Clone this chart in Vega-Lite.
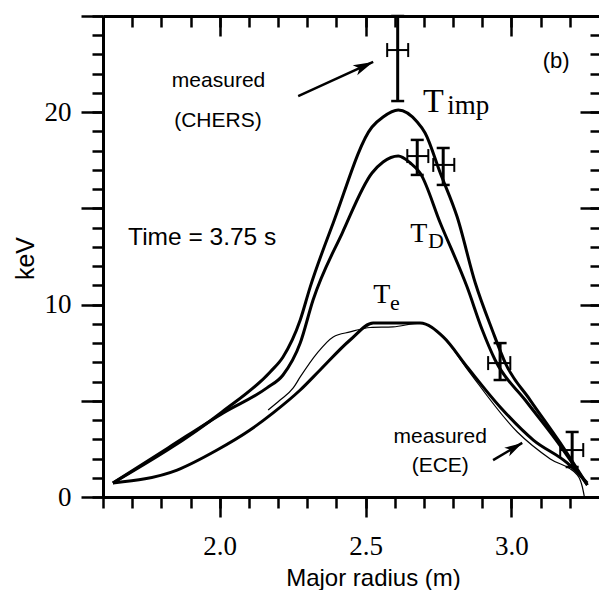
{
  "$schema": "https://vega.github.io/schema/vega-lite/v6.json",
  "width": 496,
  "height": 481,
  "autosize": {"type": "none"},
  "padding": {"left": 103, "top": 16, "right": 0, "bottom": 93},
  "background": "white",
  "config": {
    "view": {"stroke": null},
    "axis": {"grid": false, "domainColor": "black", "tickColor": "black", "labelColor": "black", "titleColor": "black", "domainWidth": 3, "tickWidth": 2.5, "labelFlush": false, "labelOverlap": false}
  },
  "datasets": {
    "timp": [
      {"r": 1.634, "t": 0.73}, {"r": 2.008, "t": 4.42}, {"r": 2.173, "t": 6.5}, {"r": 2.217, "t": 7.28},
      {"r": 2.276, "t": 9.2}, {"r": 2.31, "t": 10.91}, {"r": 2.389, "t": 14.24}, {"r": 2.522, "t": 19.23},
      {"r": 2.56, "t": 19.75}, {"r": 2.612, "t": 20.11}, {"r": 2.677, "t": 19.49}, {"r": 2.704, "t": 18.92},
      {"r": 2.756, "t": 16.84}, {"r": 2.814, "t": 14.55}, {"r": 2.876, "t": 11.12}, {"r": 2.934, "t": 8.68},
      {"r": 2.979, "t": 6.96}, {"r": 3.064, "t": 5.04}, {"r": 3.167, "t": 2.81}, {"r": 3.26, "t": 0.62}
    ],
    "td": [
      {"r": 1.634, "t": 0.73}, {"r": 1.823, "t": 2.55}, {"r": 2.012, "t": 4.37}, {"r": 2.162, "t": 5.67},
      {"r": 2.217, "t": 6.34}, {"r": 2.276, "t": 8.0}, {"r": 2.32, "t": 10.24}, {"r": 2.42, "t": 13.72},
      {"r": 2.522, "t": 16.84}, {"r": 2.56, "t": 17.41}, {"r": 2.612, "t": 17.72}, {"r": 2.653, "t": 17.36},
      {"r": 2.687, "t": 16.84}, {"r": 2.756, "t": 14.24}, {"r": 2.848, "t": 10.91}, {"r": 2.9, "t": 8.68},
      {"r": 2.944, "t": 7.12}, {"r": 3.047, "t": 5.04}, {"r": 3.153, "t": 2.96}, {"r": 3.26, "t": 0.62}
    ],
    "te": [
      {"r": 1.634, "t": 0.73}, {"r": 1.854, "t": 1.4}, {"r": 1.991, "t": 2.44}, {"r": 2.104, "t": 3.48},
      {"r": 2.183, "t": 4.37}, {"r": 2.276, "t": 5.56}, {"r": 2.344, "t": 6.6}, {"r": 2.447, "t": 8.16},
      {"r": 2.526, "t": 9.04}, {"r": 2.687, "t": 9.04}, {"r": 2.766, "t": 8.32}, {"r": 2.848, "t": 6.76},
      {"r": 2.961, "t": 4.68}, {"r": 3.075, "t": 2.96}, {"r": 3.191, "t": 1.77}, {"r": 3.26, "t": 0.73}
    ],
    "ece": [
      {"r": 2.166, "t": 4.52}, {"r": 2.207, "t": 5.04}, {"r": 2.252, "t": 5.67}, {"r": 2.276, "t": 6.24},
      {"r": 2.334, "t": 7.48}, {"r": 2.389, "t": 8.32}, {"r": 2.447, "t": 8.58}, {"r": 2.516, "t": 8.81},
      {"r": 2.594, "t": 8.84}, {"r": 2.687, "t": 9.04}, {"r": 2.766, "t": 8.32}, {"r": 2.848, "t": 6.65},
      {"r": 3.02, "t": 3.38}, {"r": 3.133, "t": 1.98}, {"r": 3.226, "t": 1.14}, {"r": 3.243, "t": 0.52},
      {"r": 3.25, "t": 0.0}
    ],
    "chers": [
      {"r": 2.61, "t": 23.23, "rlo": 2.574, "rhi": 2.646, "tlo": 20.58, "thi": 25.0},
      {"r": 2.677, "t": 17.72, "rlo": 2.643, "rhi": 2.715, "tlo": 16.74, "thi": 18.56},
      {"r": 2.766, "t": 17.26, "rlo": 2.732, "rhi": 2.804, "tlo": 16.22, "thi": 18.14},
      {"r": 2.961, "t": 6.96, "rlo": 2.92, "rhi": 2.996, "tlo": 6.08, "thi": 8.0},
      {"r": 3.208, "t": 2.44, "rlo": 3.167, "rhi": 3.246, "tlo": 1.56, "thi": 3.38}
    ],
    "arrows": [
      {"name": "CHERS", "r": 2.269, "t": 20.84, "r2": 2.526, "t2": 22.61},
      {"name": "ECE", "r": 2.937, "t": 1.92, "r2": 3.037, "t2": 2.81}
    ],
    "labels": [
      {"g": "note", "text": "measured", "r": 1.996, "t": 21.31},
      {"g": "note", "text": "(CHERS)", "r": 1.994, "t": 19.23},
      {"g": "note", "text": "measured", "r": 2.756, "t": 2.81},
      {"g": "note", "text": "(ECE)", "r": 2.756, "t": 1.3},
      {"g": "time", "text": "Time = 3.75 s", "r": 1.686, "t": 13.1},
      {"g": "panel", "text": "(b)", "r": 3.153, "t": 22.3},
      {"g": "bigT", "text": "T", "r": 2.697, "t": 20.01},
      {"g": "T", "text": "T", "r": 2.653, "t": 13.25},
      {"g": "T", "text": "T", "r": 2.526, "t": 10.08},
      {"g": "subBig", "text": "imp", "r": 2.78, "t": 19.9},
      {"g": "sub", "text": "D", "r": 2.714, "t": 12.94},
      {"g": "sub", "text": "e", "r": 2.584, "t": 9.72}
    ]
  },
  "layer": [
    {
      "data": {"name": "timp"},
      "mark": {"type": "line", "color": "black", "strokeWidth": 3, "interpolate": "monotone"},
      "encoding": {
        "x": {"field": "r", "type": "quantitative", "scale": {"domain": [1.6, 3.3], "nice": false, "zero": false},
              "axis": {"orient": "bottom", "values": [1.6, 1.7, 1.8, 1.9, 2.0, 2.1, 2.2, 2.3, 2.4, 2.5, 2.6, 2.7, 2.8, 2.9, 3.0, 3.1, 3.2], "tickSize": 11, "labels": false, "title": null, "domain": true}},
        "y": {"field": "t", "type": "quantitative", "scale": {"domain": [0, 25], "nice": false, "zero": false},
              "axis": {"orient": "left", "values": [0, 1, 2, 3, 4, 5, 6, 7, 8, 9, 10, 11, 12, 13, 14, 15, 16, 17, 18, 19, 20, 21, 22, 23, 24, 25], "tickSize": 11, "labels": false, "title": null, "domain": true}}
      }
    },
    {
      "data": {"name": "td"},
      "mark": {"type": "line", "color": "black", "strokeWidth": 3, "interpolate": "monotone"},
      "encoding": {
        "x": {"field": "r", "type": "quantitative", "scale": {"domain": [1.6, 3.3], "nice": false, "zero": false},
              "axis": {"orient": "bottom", "values": [2.0, 2.5, 3.0], "format": ".1f", "tickSize": 20, "domain": false,
                       "labelFont": "Liberation Serif", "labelFontSize": 27, "labelPadding": 37, "labelBaseline": "alphabetic",
                       "title": "Major radius (m)", "titleFont": "Liberation Sans", "titleFontSize": 24, "titleFontWeight": "normal",
                       "titleX": 270, "titleY": 88, "titleBaseline": "alphabetic", "titleAlign": "center"}},
        "y": {"field": "t", "type": "quantitative", "scale": {"domain": [0, 25], "nice": false, "zero": false},
              "axis": {"orient": "left", "values": [0, 5, 10, 15, 20, 25], "tickSize": 22, "domain": false,
                       "labelExpr": "datum.value % 10 === 0 ? datum.label : ''",
                       "labelFont": "Liberation Serif", "labelFontSize": 27, "labelPadding": 10, "labelBaseline": "middle",
                       "title": "keV", "titleFont": "Liberation Sans", "titleFontSize": 25, "titleFontWeight": "normal",
                       "titleX": -70, "titleY": 242, "titleAngle": -90, "titleBaseline": "alphabetic", "titleAlign": "center"}}
      }
    },
    {
      "data": {"name": "te"},
      "mark": {"type": "line", "color": "black", "strokeWidth": 3, "interpolate": "monotone"},
      "encoding": {
        "x": {"field": "r", "type": "quantitative", "scale": {"domain": [1.6, 3.3], "nice": false, "zero": false},
              "axis": {"orient": "top", "values": [1.6, 1.7, 1.8, 1.9, 2.0, 2.1, 2.2, 2.3, 2.4, 2.5, 2.6, 2.7, 2.8, 2.9, 3.0, 3.1, 3.2], "tickSize": -11, "labels": false, "title": null, "domain": true}},
        "y": {"field": "t", "type": "quantitative", "scale": {"domain": [0, 25], "nice": false, "zero": false},
              "axis": {"orient": "right", "values": [1, 2, 3, 4, 5, 6, 7, 8, 9, 10, 11, 12, 13, 14, 15, 16, 17, 18, 19, 20, 21, 22, 23, 24], "tickSize": -9, "labels": false, "title": null, "domain": false}}
      }
    },
    {
      "data": {"name": "ece"},
      "mark": {"type": "line", "color": "black", "strokeWidth": 1.2, "interpolate": "monotone"},
      "encoding": {
        "x": {"field": "r", "type": "quantitative", "scale": {"domain": [1.6, 3.3], "nice": false, "zero": false},
              "axis": {"orient": "top", "values": [2.0, 2.5, 3.0], "tickSize": -20, "labels": false, "title": null, "domain": false}},
        "y": {"field": "t", "type": "quantitative", "scale": {"domain": [0, 25], "nice": false, "zero": false},
              "axis": {"orient": "right", "values": [5, 10, 15, 20], "tickSize": -19, "labels": false, "title": null, "domain": false}}
      }
    },
    {
      "data": {"name": "chers"},
      "mark": {"type": "rule", "color": "black", "strokeWidth": 3},
      "encoding": {
        "x": {"field": "r", "type": "quantitative", "scale": {"domain": [1.6, 3.3], "nice": false, "zero": false}, "axis": null},
        "y": {"field": "tlo", "type": "quantitative", "scale": {"domain": [0, 25], "nice": false, "zero": false}, "axis": null},
        "y2": {"field": "thi"}
      }
    },
    {
      "data": {"name": "chers"},
      "mark": {"type": "rule", "color": "black", "strokeWidth": 2},
      "encoding": {
        "x": {"field": "rlo", "type": "quantitative", "scale": {"domain": [1.6, 3.3], "nice": false, "zero": false}, "axis": null},
        "x2": {"field": "rhi"},
        "y": {"field": "t", "type": "quantitative", "scale": {"domain": [0, 25], "nice": false, "zero": false}, "axis": null}
      }
    },
    {
      "data": {"name": "chers"},
      "mark": {"type": "tick", "color": "black", "orient": "horizontal", "size": 13, "thickness": 2.5, "opacity": 1},
      "encoding": {
        "x": {"field": "r", "type": "quantitative", "scale": {"domain": [1.6, 3.3], "nice": false, "zero": false}, "axis": null},
        "y": {"field": "tlo", "type": "quantitative", "scale": {"domain": [0, 25], "nice": false, "zero": false}, "axis": null}
      }
    },
    {
      "data": {"name": "chers"},
      "mark": {"type": "tick", "color": "black", "orient": "horizontal", "size": 13, "thickness": 2.5, "opacity": 1},
      "encoding": {
        "x": {"field": "r", "type": "quantitative", "scale": {"domain": [1.6, 3.3], "nice": false, "zero": false}, "axis": null},
        "y": {"field": "thi", "type": "quantitative", "scale": {"domain": [0, 25], "nice": false, "zero": false}, "axis": null}
      }
    },
    {
      "data": {"name": "chers"},
      "mark": {"type": "tick", "color": "black", "orient": "vertical", "size": 14, "thickness": 2, "opacity": 1},
      "encoding": {
        "x": {"field": "rlo", "type": "quantitative", "scale": {"domain": [1.6, 3.3], "nice": false, "zero": false}, "axis": null},
        "y": {"field": "t", "type": "quantitative", "scale": {"domain": [0, 25], "nice": false, "zero": false}, "axis": null}
      }
    },
    {
      "data": {"name": "chers"},
      "mark": {"type": "tick", "color": "black", "orient": "vertical", "size": 14, "thickness": 2, "opacity": 1},
      "encoding": {
        "x": {"field": "rhi", "type": "quantitative", "scale": {"domain": [1.6, 3.3], "nice": false, "zero": false}, "axis": null},
        "y": {"field": "t", "type": "quantitative", "scale": {"domain": [0, 25], "nice": false, "zero": false}, "axis": null}
      }
    },
    {
      "data": {"name": "arrows"},
      "mark": {"type": "rule", "color": "black", "strokeWidth": 2.5},
      "encoding": {
        "x": {"field": "r", "type": "quantitative", "scale": {"domain": [1.6, 3.3], "nice": false, "zero": false}, "axis": null},
        "y": {"field": "t", "type": "quantitative", "scale": {"domain": [0, 25], "nice": false, "zero": false}, "axis": null},
        "x2": {"field": "r2"},
        "y2": {"field": "t2"}
      }
    },
    {
      "data": {"name": "arrows"},
      "transform": [{"filter": "datum.name === 'CHERS'"}],
      "mark": {"type": "point", "filled": true, "color": "black", "opacity": 1, "strokeWidth": 0, "size": 400, "angle": -24.4,
               "shape": "M0,0 L-2,-0.55 L-1.5,0 L-2,0.55 Z"},
      "encoding": {
        "x": {"field": "r2", "type": "quantitative", "scale": {"domain": [1.6, 3.3], "nice": false, "zero": false}, "axis": null},
        "y": {"field": "t2", "type": "quantitative", "scale": {"domain": [0, 25], "nice": false, "zero": false}, "axis": null}
      }
    },
    {
      "data": {"name": "arrows"},
      "transform": [{"filter": "datum.name === 'ECE'"}],
      "mark": {"type": "point", "filled": true, "color": "black", "opacity": 1, "strokeWidth": 0, "size": 324, "angle": -30.4,
               "shape": "M0,0 L-2,-0.55 L-1.5,0 L-2,0.55 Z"},
      "encoding": {
        "x": {"field": "r2", "type": "quantitative", "scale": {"domain": [1.6, 3.3], "nice": false, "zero": false}, "axis": null},
        "y": {"field": "t2", "type": "quantitative", "scale": {"domain": [0, 25], "nice": false, "zero": false}, "axis": null}
      }
    },
    {
      "data": {"name": "labels"},
      "transform": [{"filter": "datum.g === 'note'"}],
      "mark": {"type": "text", "font": "Liberation Sans", "fontSize": 21, "align": "center", "baseline": "alphabetic", "color": "black"},
      "encoding": {
        "x": {"field": "r", "type": "quantitative", "scale": {"domain": [1.6, 3.3], "nice": false, "zero": false}, "axis": null},
        "y": {"field": "t", "type": "quantitative", "scale": {"domain": [0, 25], "nice": false, "zero": false}, "axis": null},
        "text": {"field": "text"}
      }
    },
    {
      "data": {"name": "labels"},
      "transform": [{"filter": "datum.g === 'time'"}],
      "mark": {"type": "text", "font": "Liberation Sans", "fontSize": 24.5, "align": "left", "baseline": "alphabetic", "color": "black"},
      "encoding": {
        "x": {"field": "r", "type": "quantitative", "scale": {"domain": [1.6, 3.3], "nice": false, "zero": false}, "axis": null},
        "y": {"field": "t", "type": "quantitative", "scale": {"domain": [0, 25], "nice": false, "zero": false}, "axis": null},
        "text": {"field": "text"}
      }
    },
    {
      "data": {"name": "labels"},
      "transform": [{"filter": "datum.g === 'panel'"}],
      "mark": {"type": "text", "font": "Liberation Sans", "fontSize": 22, "align": "center", "baseline": "alphabetic", "color": "black"},
      "encoding": {
        "x": {"field": "r", "type": "quantitative", "scale": {"domain": [1.6, 3.3], "nice": false, "zero": false}, "axis": null},
        "y": {"field": "t", "type": "quantitative", "scale": {"domain": [0, 25], "nice": false, "zero": false}, "axis": null},
        "text": {"field": "text"}
      }
    },
    {
      "data": {"name": "labels"},
      "transform": [{"filter": "datum.g === 'bigT'"}],
      "mark": {"type": "text", "font": "Liberation Serif", "fontSize": 34, "align": "left", "baseline": "alphabetic", "color": "black"},
      "encoding": {
        "x": {"field": "r", "type": "quantitative", "scale": {"domain": [1.6, 3.3], "nice": false, "zero": false}, "axis": null},
        "y": {"field": "t", "type": "quantitative", "scale": {"domain": [0, 25], "nice": false, "zero": false}, "axis": null},
        "text": {"field": "text"}
      }
    },
    {
      "data": {"name": "labels"},
      "transform": [{"filter": "datum.g === 'T'"}],
      "mark": {"type": "text", "font": "Liberation Serif", "fontSize": 28, "align": "left", "baseline": "alphabetic", "color": "black"},
      "encoding": {
        "x": {"field": "r", "type": "quantitative", "scale": {"domain": [1.6, 3.3], "nice": false, "zero": false}, "axis": null},
        "y": {"field": "t", "type": "quantitative", "scale": {"domain": [0, 25], "nice": false, "zero": false}, "axis": null},
        "text": {"field": "text"}
      }
    },
    {
      "data": {"name": "labels"},
      "transform": [{"filter": "datum.g === 'subBig'"}],
      "mark": {"type": "text", "font": "Liberation Serif", "fontSize": 27, "align": "left", "baseline": "alphabetic", "color": "black"},
      "encoding": {
        "x": {"field": "r", "type": "quantitative", "scale": {"domain": [1.6, 3.3], "nice": false, "zero": false}, "axis": null},
        "y": {"field": "t", "type": "quantitative", "scale": {"domain": [0, 25], "nice": false, "zero": false}, "axis": null},
        "text": {"field": "text"}
      }
    },
    {
      "data": {"name": "labels"},
      "transform": [{"filter": "datum.g === 'sub'"}],
      "mark": {"type": "text", "font": "Liberation Serif", "fontSize": 22, "align": "left", "baseline": "alphabetic", "color": "black"},
      "encoding": {
        "x": {"field": "r", "type": "quantitative", "scale": {"domain": [1.6, 3.3], "nice": false, "zero": false}, "axis": null},
        "y": {"field": "t", "type": "quantitative", "scale": {"domain": [0, 25], "nice": false, "zero": false}, "axis": null},
        "text": {"field": "text"}
      }
    }
  ],
  "resolve": {"axis": {"x": "independent", "y": "independent"}}
}
